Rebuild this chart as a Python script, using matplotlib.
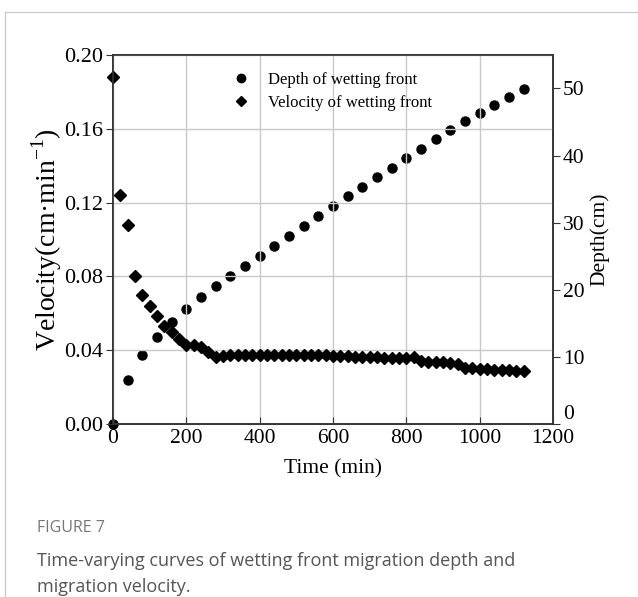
import matplotlib.pyplot as plt
import numpy as np
from matplotlib.lines import Line2D

# depth of wetting front, read every 40 min
depth_time = np.arange(0, 1121, 40)
depth = [0.0, 6.5, 10.3, 13.0, 15.2, 17.1, 18.9, 20.5, 22.0, 23.5,
         25.0, 26.5, 28.0, 29.5, 31.0, 32.5, 34.0, 35.3, 36.8, 38.2,
         39.6, 41.0, 42.4, 43.8, 45.1, 46.3, 47.6, 48.7, 49.9]

# velocity of wetting front, read every 20 min
vel_time = np.arange(0, 1121, 20)
velocity = [0.188, 0.124, 0.108, 0.080, 0.070, 0.064, 0.0585, 0.053, 0.050, 0.046,
            0.0425, 0.0425, 0.0415, 0.0387, 0.0362, 0.0366, 0.0374, 0.0375, 0.0375, 0.0375,
            0.0375, 0.0375, 0.0374, 0.0374, 0.0374, 0.0373, 0.0373, 0.0372, 0.0372, 0.0371,
            0.0370, 0.0368, 0.0366, 0.0365, 0.0364, 0.0362, 0.0360, 0.0359, 0.0359, 0.0358,
            0.0358, 0.0360, 0.0341, 0.0338, 0.0336, 0.0334, 0.0332, 0.0325, 0.0303, 0.0301,
            0.0298, 0.0296, 0.0294, 0.0292, 0.0290, 0.0287, 0.0284]

plt.rcParams['font.family'] = ['Liberation Serif']
plt.rcParams['mathtext.fontset'] = 'custom'
plt.rcParams['mathtext.rm'] = 'Liberation Serif'

fig = plt.figure(figsize=(6.38, 5.97), dpi=100)
ax = fig.add_axes([0.177, 0.29, 0.69, 0.618])
ax2 = ax.twinx()

ax.set_zorder(ax2.get_zorder() + 1)
ax.patch.set_visible(False)

ax2.plot(depth_time, depth, 'o', color='black', ms=6.5, clip_on=False)
ax.plot(vel_time, velocity, 'D', color='black', ms=6, clip_on=False)

ax.set_xlim(0, 1200)
ax.set_ylim(0, 0.20)
ax2.set_ylim(0, 55)
ax.set_xticks(np.arange(0, 1201, 200))
ax.set_yticks(np.arange(0, 0.201, 0.04))
ax.set_yticklabels(['%.2f' % v for v in np.arange(0, 0.201, 0.04)])
ax2.set_yticks(np.arange(0, 51, 10))

ax2.grid(False)
ax.grid(True, color='#c8c8c8', lw=1)
ax.set_axisbelow(True)

for a in (ax, ax2):
    for s in a.spines.values():
        s.set_color('#333333')
        s.set_linewidth(1.2)

ax.tick_params(axis='x', direction='in', length=5, labelsize=15.5, pad=4, color='#333333')
ax.tick_params(axis='y', direction='out', length=5, labelsize=16, pad=2, color='#333333')
ax2.tick_params(axis='y', direction='out', length=5, labelsize=15.5, pad=2, color='#333333')
# lift the right-hand zero so it clears the 1200 label
ax2.get_yticklabels()[0].set_verticalalignment('bottom')

ax.set_xlabel('Time (min)', fontsize=15.5, labelpad=8)
ax.set_ylabel('Velocity(cm·min$^{\\rm{-1}}$)', fontsize=20, labelpad=0)
ax2.set_ylabel('Depth(cm)', fontsize=15.5, labelpad=4)

handles = [Line2D([], [], ls='none', marker='o', color='black', ms=6),
           Line2D([], [], ls='none', marker='D', color='black', ms=5.5)]
ax.legend(handles, ['Depth of wetting front', 'Velocity of wetting front'],
          loc='upper left', bbox_to_anchor=(0.22, 0.995), frameon=False,
          fontsize=12, handletextpad=0.6, labelspacing=0.45)

# card border and caption
fig.add_artist(Line2D([4.5 / 638, 4.5 / 638], [0, 1 - 12 / 597], color='#cccccc', lw=1))
fig.add_artist(Line2D([4.5 / 638, 1], [1 - 12 / 597, 1 - 12 / 597], color='#cccccc', lw=1))
fig.text(37 / 638, 1 - 532 / 597, 'FIGURE 7', family='Open Sans', fontsize=11.5,
         color='#777777', va='baseline')
fig.text(37 / 638, 1 - 566 / 597, 'Time-varying curves of wetting front migration depth and',
         family='Open Sans', fontsize=13, color='#555555', va='baseline')
fig.text(37 / 638, 1 - 592 / 597, 'migration velocity.',
         family='Open Sans', fontsize=13, color='#555555', va='baseline')

fig.savefig('out.png', dpi=100)
